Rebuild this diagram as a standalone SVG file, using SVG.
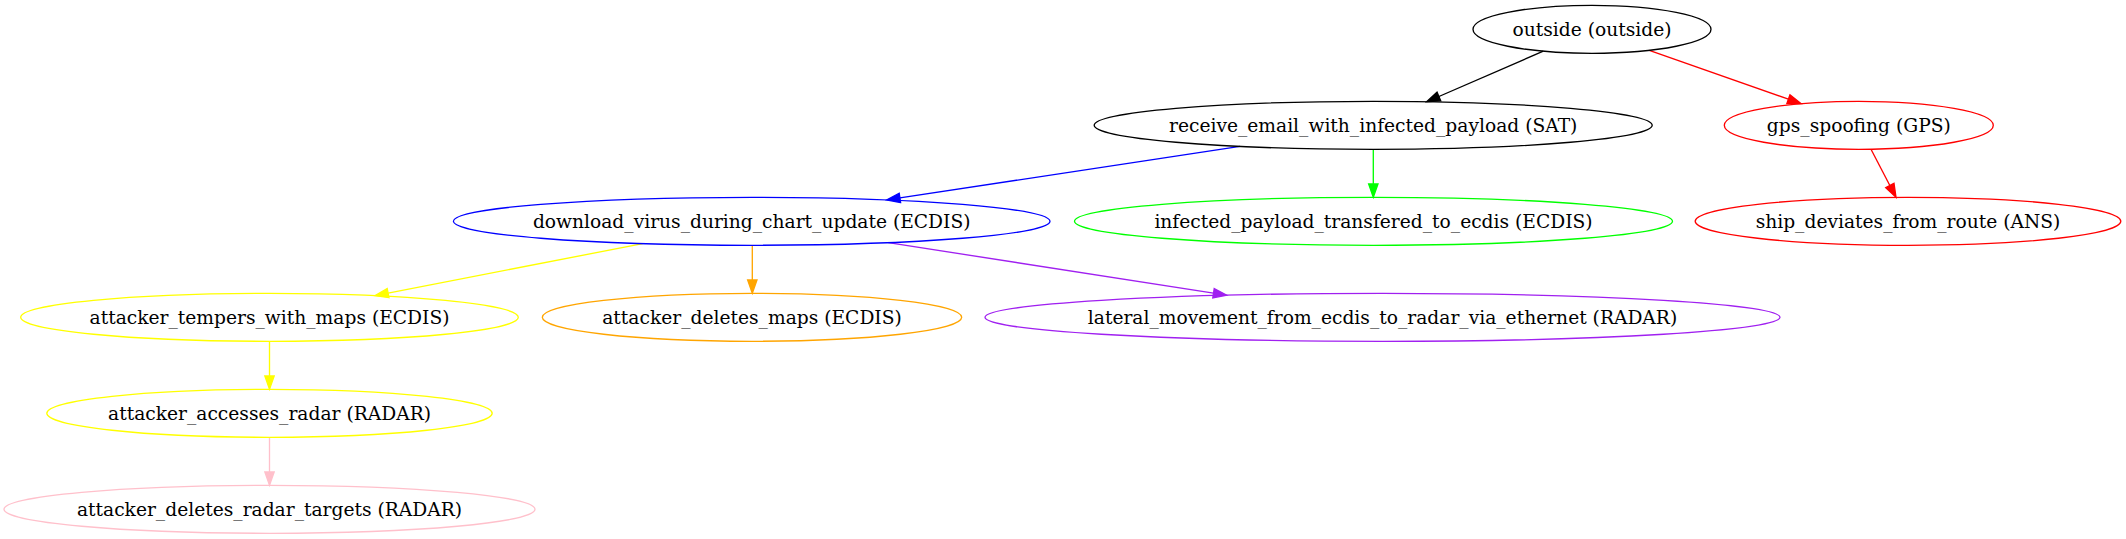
<svg xmlns="http://www.w3.org/2000/svg" width="2126" height="539" viewBox="0 0 2126 539">
<style>
.n ellipse{fill:none;stroke-width:1.33}
.n text{font-family:"DejaVu Serif","Liberation Serif",serif;font-size:18.67px;text-anchor:middle;fill:#000}
.e line{stroke-width:1.33;fill:none}
</style>
<defs>
<marker id="a-black" markerUnits="userSpaceOnUse" markerWidth="14" markerHeight="10" refX="0" refY="5" orient="auto" overflow="visible"><path d="M0,0.33L13.33,5L0,9.67Z" fill="#000" stroke="#000" stroke-width="1.33"/></marker>
<marker id="a-red" markerUnits="userSpaceOnUse" markerWidth="14" markerHeight="10" refX="0" refY="5" orient="auto" overflow="visible"><path d="M0,0.33L13.33,5L0,9.67Z" fill="#ff0000" stroke="#ff0000" stroke-width="1.33"/></marker>
<marker id="a-blue" markerUnits="userSpaceOnUse" markerWidth="14" markerHeight="10" refX="0" refY="5" orient="auto" overflow="visible"><path d="M0,0.33L13.33,5L0,9.67Z" fill="#0000ff" stroke="#0000ff" stroke-width="1.33"/></marker>
<marker id="a-green" markerUnits="userSpaceOnUse" markerWidth="14" markerHeight="10" refX="0" refY="5" orient="auto" overflow="visible"><path d="M0,0.33L13.33,5L0,9.67Z" fill="#00ff00" stroke="#00ff00" stroke-width="1.33"/></marker>
<marker id="a-yellow" markerUnits="userSpaceOnUse" markerWidth="14" markerHeight="10" refX="0" refY="5" orient="auto" overflow="visible"><path d="M0,0.33L13.33,5L0,9.67Z" fill="#ffff00" stroke="#ffff00" stroke-width="1.33"/></marker>
<marker id="a-orange" markerUnits="userSpaceOnUse" markerWidth="14" markerHeight="10" refX="0" refY="5" orient="auto" overflow="visible"><path d="M0,0.33L13.33,5L0,9.67Z" fill="#ffa500" stroke="#ffa500" stroke-width="1.33"/></marker>
<marker id="a-purple" markerUnits="userSpaceOnUse" markerWidth="14" markerHeight="10" refX="0" refY="5" orient="auto" overflow="visible"><path d="M0,0.33L13.33,5L0,9.67Z" fill="#a020f0" stroke="#a020f0" stroke-width="1.33"/></marker>
<marker id="a-pink" markerUnits="userSpaceOnUse" markerWidth="14" markerHeight="10" refX="0" refY="5" orient="auto" overflow="visible"><path d="M0,0.33L13.33,5L0,9.67Z" fill="#ffc0cb" stroke="#ffc0cb" stroke-width="1.33"/></marker>
</defs>
<rect width="2126" height="539" fill="#fff"/>
<g id="edges" class="e">
<line x1="1543.3" y1="51.2" x2="1438.9" y2="96.5" stroke="#000" marker-end="url(#a-black)"/>
<line x1="1649.3" y1="50.3" x2="1788.4" y2="99.2" stroke="#ff0000" marker-end="url(#a-red)"/>
<line x1="1240" y1="146.4" x2="899.9" y2="197.9" stroke="#0000ff" marker-end="url(#a-blue)"/>
<line x1="1373.3" y1="149.3" x2="1373.3" y2="184" stroke="#00ff00" marker-end="url(#a-green)"/>
<line x1="1871" y1="149.2" x2="1889.85" y2="185.5" stroke="#ff0000" marker-end="url(#a-red)"/>
<line x1="642.7" y1="243.6" x2="388.1" y2="293.1" stroke="#ffff00" marker-end="url(#a-yellow)"/>
<line x1="752.3" y1="245.3" x2="752.3" y2="280" stroke="#ffa500" marker-end="url(#a-orange)"/>
<line x1="888.3" y1="242.6" x2="1213.5" y2="293.2" stroke="#a020f0" marker-end="url(#a-purple)"/>
<line x1="269.5" y1="341.3" x2="269.5" y2="376" stroke="#ffff00" marker-end="url(#a-yellow)"/>
<line x1="269.5" y1="437.3" x2="269.5" y2="472" stroke="#ffc0cb" marker-end="url(#a-pink)"/>
</g>
<g id="outside" class="n"><ellipse cx="1592" cy="29.3" rx="119" ry="24" stroke="#000"/><text x="1592" y="35.5">outside (outside)</text></g>
<g id="receive_email_with_infected_payload" class="n"><ellipse cx="1373.2" cy="125.3" rx="279" ry="24" stroke="#000"/><text x="1373.2" y="131.5">receive_email_with_infected_payload (SAT)</text></g>
<g id="gps_spoofing" class="n"><ellipse cx="1858.8" cy="125.3" rx="134.5" ry="24" stroke="#ff0000"/><text x="1858.8" y="131.5">gps_spoofing (GPS)</text></g>
<g id="download_virus_during_chart_update" class="n"><ellipse cx="751.7" cy="221.3" rx="298.3" ry="24" stroke="#0000ff"/><text x="751.7" y="227.5">download_virus_during_chart_update (ECDIS)</text></g>
<g id="infected_payload_transfered_to_ecdis" class="n"><ellipse cx="1373.5" cy="221.3" rx="299" ry="24" stroke="#00ff00"/><text x="1373.5" y="227.5">infected_payload_transfered_to_ecdis (ECDIS)</text></g>
<g id="ship_deviates_from_route" class="n"><ellipse cx="1908" cy="221.3" rx="212.8" ry="24" stroke="#ff0000"/><text x="1908" y="227.5">ship_deviates_from_route (ANS)</text></g>
<g id="attacker_tempers_with_maps" class="n"><ellipse cx="269.5" cy="317.3" rx="248.8" ry="24" stroke="#ffff00"/><text x="269.5" y="323.5">attacker_tempers_with_maps (ECDIS)</text></g>
<g id="attacker_deletes_maps" class="n"><ellipse cx="752" cy="317.3" rx="209.7" ry="24" stroke="#ffa500"/><text x="752" y="323.5">attacker_deletes_maps (ECDIS)</text></g>
<g id="lateral_movement_from_ecdis_to_radar_via_ethernet" class="n"><ellipse cx="1382.5" cy="317.3" rx="397.5" ry="24" stroke="#a020f0"/><text x="1382.5" y="323.5">lateral_movement_from_ecdis_to_radar_via_ethernet (RADAR)</text></g>
<g id="attacker_accesses_radar" class="n"><ellipse cx="269.5" cy="413.3" rx="222.7" ry="24" stroke="#ffff00"/><text x="269.5" y="419.5">attacker_accesses_radar (RADAR)</text></g>
<g id="attacker_deletes_radar_targets" class="n"><ellipse cx="269.5" cy="509.3" rx="265.5" ry="24" stroke="#ffc0cb"/><text x="269.5" y="515.5">attacker_deletes_radar_targets (RADAR)</text></g>
</svg>
